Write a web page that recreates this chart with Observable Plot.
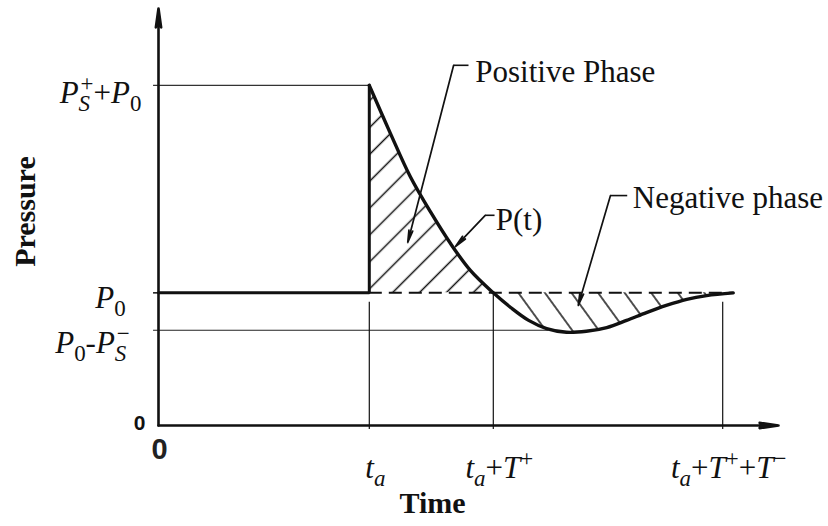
<!DOCTYPE html>
<html>
<head>
<meta charset="utf-8">
<script src="https://cdn.jsdelivr.net/npm/d3@7"></script>
<script src="https://cdn.jsdelivr.net/npm/@observablehq/plot@0.6"></script>
<style>
  body { margin: 0; background: #fff; }
  svg { display: block; }
</style>
</head>
<body>
<div id="chart"></div>
<script>
// Idealised blast-wave pressure history (arbitrary time / pressure units).
const ambient = 3.9;          // P0
const peakPressure = 10;      // Ps+ + P0
const underPressure = 2.8;    // P0 - Ps-
const arrival = 3.4;          // t_a
const positiveEnd = 5.4;      // t_a + T+
const negativeEnd = 9.1;      // t_a + T+ + T-

// P(t) after arrival
const curveTime     = [3.4, 3.74, 4.06, 4.39, 4.71, 5.03, 5.4, 5.68, 5.97, 6.26, 6.58, 6.9, 7.23, 7.55, 7.87, 8.19, 8.52, 8.84, 9.27];
const curvePressure = [10, 8.59, 7.32, 6.27, 5.35, 4.56, 3.9, 3.47, 3.09, 2.85, 2.74, 2.77, 2.88, 3.09, 3.32, 3.53, 3.71, 3.82, 3.9];

const timeTicks = [arrival, positiveEnd, negativeEnd];
const timeLabels = ["t_{a}", "t_{a}+T^{+}", "t_{a}+T^{+}+T^{-}"];
const pressureTicks = [peakPressure, ambient, underPressure];
const pressureLabels = ["P_{S}^{+}+P_{0}", "P_{0}", "P_{0}-P_{S}^{-}"];

// Callouts: text anchor and leader line (elbow -> arrow tip)
const calloutText = ["Positive Phase", "P(t)", "Negative phase"];
const calloutTextAt = [[5.11, 10.38], [5.44, 6.03], [7.65, 6.68]];
const calloutElbow = [[4.76, 10.59], [5.27, 6.18], [7.29, 6.76]];
const calloutStubEnd = [[5.0, 10.59], [5.42, 6.18], [7.56, 6.76]];
const calloutTip = [[4.02, 5.38], [4.79, 5.26], [6.77, 3.53]];

const curve = curveTime.map((t, i) => ({t, p: curvePressure[i]}));
const splitIndex = curveTime.indexOf(positiveEnd);
const positivePhase = curve.slice(0, splitIndex + 1);
const negativePhase = curve.slice(splitIndex);
const callouts = calloutText.map((text, i) => ({
  text,
  tx: calloutTextAt[i][0], ty: calloutTextAt[i][1],
  x1: calloutElbow[i][0], y1: calloutElbow[i][1],
  xs: calloutStubEnd[i][0],
  x2: calloutTip[i][0], y2: calloutTip[i][1]
}));

const serif = "'Liberation Serif', 'Times New Roman', serif";
const sans = "'Liberation Sans', Arial, sans-serif";
const ink = "#111";

// label placement around the axis ticks (pixels)
const pressureLabelOffset = [{dx: -58, dy: 8}, {dx: -48, dy: 5}, {dx: -66, dy: 13}];

const svg = Plot.plot({
  width: 828,
  height: 526,
  marginLeft: 158,
  marginRight: 50,
  marginTop: 8,
  marginBottom: 101,
  x: {domain: [0, 10], axis: null},
  y: {domain: [0, 12.26], axis: null},
  style: {background: "#fff", overflow: "visible"},
  marks: [
    // hatched phases
    Plot.areaY(positivePhase, {x: "t", y1: () => ambient, y2: "p", curve: "catmull-rom", fill: "url(#hatch-positive)"}),
    Plot.areaY(negativePhase, {x: "t", y1: () => ambient, y2: "p", curve: "catmull-rom", fill: "url(#hatch-negative)"}),

    // thin reference lines
    Plot.ruleY([peakPressure], {x1: -0.08, x2: arrival, stroke: "#333", strokeWidth: 1.3}),
    Plot.ruleY([underPressure], {x1: -0.08, x2: 6.3, stroke: "#222", strokeWidth: 1.2}),
    Plot.ruleY([ambient], {x1: -0.08, x2: 0, stroke: ink, strokeWidth: 1.5}),
    Plot.ruleX([arrival, negativeEnd], {y1: -0.12, y2: 3.62, stroke: ink, strokeWidth: 1.2}),
    Plot.ruleX([positiveEnd], {y1: -0.12, y2: ambient, stroke: ink, strokeWidth: 1.2}),

    // ambient level during the blast (dashed)
    Plot.ruleY([ambient], {x1: arrival, x2: 9.27, stroke: ink, strokeWidth: 2, strokeDasharray: "13,7"}),

    // pre-arrival ambient and the shock front
    Plot.line([[0, ambient], [arrival, ambient], [arrival, peakPressure]], {stroke: ink, strokeWidth: 3, strokeLinejoin: "miter"}),

    // P(t)
    Plot.line(curve, {x: "t", y: "p", curve: "catmull-rom", stroke: ink, strokeWidth: 3.4}),

    // axes with arrowheads
    Plot.arrow([0], {x1: 0, y1: 0, x2: 10, y2: 0, stroke: ink, strokeWidth: 2.6, headLength: 11, headAngle: 16}),
    Plot.arrow([0], {x1: 0, y1: 0, x2: 0, y2: 12.26, stroke: ink, strokeWidth: 2.6, headLength: 11, headAngle: 16}),

    // callouts
    Plot.link(callouts, {x1: "x1", y1: "y1", x2: "xs", y2: "y1", stroke: ink, strokeWidth: 1.6}),
    Plot.arrow(callouts, {x1: "x1", y1: "y1", x2: "x2", y2: "y2", stroke: ink, strokeWidth: 1.7, headLength: 11, headAngle: 18}),
    Plot.text(callouts, {x: "tx", y: "ty", text: "text", textAnchor: "start", lineAnchor: "middle", fontFamily: serif, fontSize: 31, fill: ink}),

    // tick labels
    Plot.text(timeTicks, {x: d => d, y: -1.26, text: (d, i) => timeLabels[i], textAnchor: "middle", lineAnchor: "middle", dx: 6, fontFamily: serif, fontSize: 31, fontStyle: "italic", fill: ink}),
    ...pressureTicks.map((v, i) => Plot.text([pressureLabels[i]], {
      x: 0, y: v, text: d => d, textAnchor: "middle", lineAnchor: "middle",
      dx: pressureLabelOffset[i].dx, dy: pressureLabelOffset[i].dy,
      fontFamily: serif, fontSize: 31, fontStyle: "italic", fill: ink
    })),
    Plot.text(["0"], {x: 0, y: 0, text: d => d, dx: -19, dy: -2, textAnchor: "middle", lineAnchor: "middle", fontFamily: sans, fontWeight: "bold", fontSize: 21, fill: ink}),
    Plot.text(["0"], {x: 0, y: 0, text: d => d, dx: 1, dy: 24, textAnchor: "middle", lineAnchor: "middle", fontFamily: sans, fontWeight: "bold", fontSize: 29, fill: "#222"}),

    // axis titles
    Plot.text(["Time"], {x: 4.42, y: -2.29, text: d => d, textAnchor: "middle", lineAnchor: "middle", fontFamily: serif, fontWeight: "bold", fontSize: 30, fill: ink}),
    Plot.text(["Pressure"], {x: -2.15, y: 6.29, text: d => d, rotate: -90, textAnchor: "middle", lineAnchor: "middle", fontFamily: serif, fontWeight: "bold", fontSize: 30, fill: ink})
  ]
});

// hatch patterns for the two phases
const defs = d3.select(svg).insert("defs", ":first-child");
function hatch(id, spacing, angle) {
  const p = defs.append("pattern")
    .attr("id", id)
    .attr("patternUnits", "userSpaceOnUse")
    .attr("width", 40)
    .attr("height", spacing)
    .attr("patternTransform", `rotate(${angle})`);
  p.append("line")
    .attr("x1", -2).attr("x2", 42)
    .attr("y1", spacing / 2).attr("y2", spacing / 2)
    .attr("stroke", "#111")
    .attr("stroke-width", 1.7);
}
hatch("hatch-positive", 19, -45);
hatch("hatch-negative", 21.5, 54);

document.getElementById("chart").append(svg);

// typeset _{sub} and ^{sup} in tick labels
function parseScript(src) {
  const parts = [];
  let i = 0;
  while (i < src.length) {
    const c = src[i];
    if ((c === "_" || c === "^") && src[i + 1] === "{") {
      const end = src.indexOf("}", i);
      parts.push({text: src.slice(i + 2, end), level: c === "_" ? -1 : 1});
      i = end + 1;
    } else {
      let j = i;
      while (j < src.length && !((src[j] === "_" || src[j] === "^") && src[j + 1] === "{")) j++;
      parts.push({text: src.slice(i, j), level: 0});
      i = j;
    }
  }
  return parts;
}

d3.select(svg).selectAll("text").each(function () {
  const src = this.textContent;
  if (!/[_^]\{/.test(src)) return;
  const size = parseFloat(getComputedStyle(this).fontSize) || 28;
  const el = d3.select(this);
  el.text(null);
  let offset = 0;
  let lastSub = null;
  for (const part of parseScript(src)) {
    const target = part.level === -1 ? 0.26 * size : part.level === 1 ? -0.4 * size : 0;
    const fs = part.level === 0 ? size : 0.74 * size;
    const runs = part.text.match(/[A-Za-z]+|[^A-Za-z]+/g) || [];
    const first = [];
    runs.forEach((run, k) => {
      const span = el.append("tspan")
        .attr("font-size", fs)
        .attr("font-style", /[A-Za-z]/.test(run) ? "italic" : "normal")
        .text(run.replace(/-/g, part.level === 0 ? "-" : "\u2212"));
      if (k === 0) {
        span.attr("dy", target - offset);
        offset = target;
        first.push(span);
      }
    });
    if (part.level === 1 && lastSub) {
      const w = lastSub.reduce((s, n) => s + n.getComputedTextLength(), 0);
      first[0].attr("dx", -w + 2);
    }
    lastSub = part.level === -1 ? el.selectAll("tspan").nodes().slice(-runs.length) : null;
  }
  if (offset !== 0) el.append("tspan").attr("dy", -offset).text("");
});
</script>
</body>
</html>
